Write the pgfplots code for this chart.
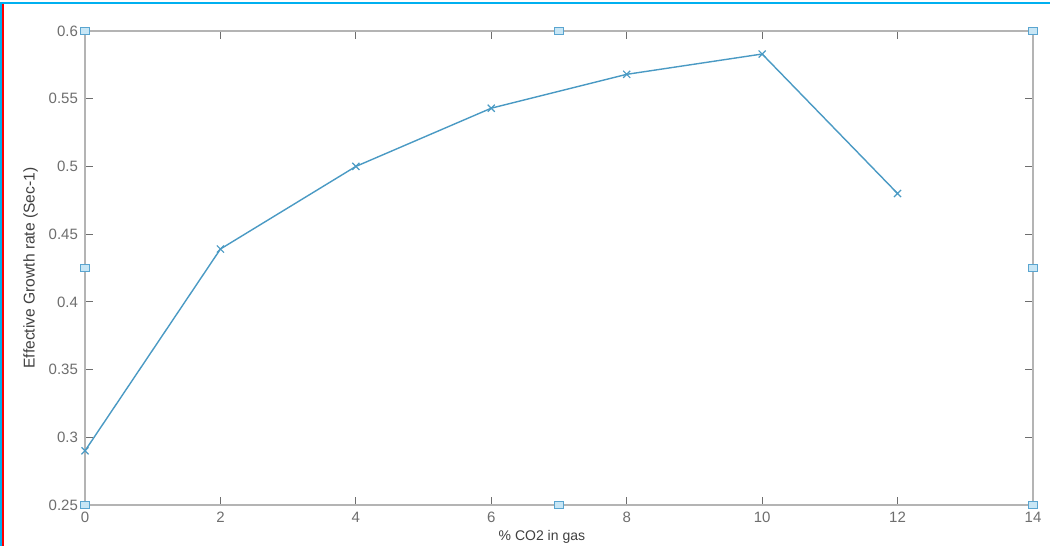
\documentclass[border=0pt]{standalone}
\usepackage{pgfplots}
\pgfplotsset{compat=1.18}
\usepackage{fontspec}
\setmainfont{Liberation Sans}
\definecolor{linec}{HTML}{4A9AC4}
\definecolor{axc}{HTML}{B4B4B4}
\definecolor{tickc}{HTML}{6E6E6E}
\definecolor{framec}{HTML}{00B0F0}
\definecolor{handlef}{HTML}{C8E6F5}
\definecolor{handled}{HTML}{5AA5D0}
\begin{document}
\begin{tikzpicture}[x=0.5pt,y=0.5pt]
\path[use as bounding box,fill=white] (-85,-41) rectangle (965,505);
\begin{axis}[
  at={(0pt,0pt)}, anchor=south west,
  scale only axis, width=474pt, height=237pt,
  xmin=0, xmax=14, ymin=0.25, ymax=0.6,
  xtick={0,2,...,14},
  ytick={0.25,0.3,0.35,0.4,0.45,0.5,0.55,0.6},
  yticklabels={0.25,0.3,0.35,0.4,0.45,0.5,0.55,0.6},
  xticklabels={0,2,4,6,8,10,12,14},
  tick align=inside,
  major tick length=4pt,
  axis line style={axc, line width=1pt},
  every tick/.style={tickc, line width=0.6pt},
  tick label style={font=\fontsize{7.5}{8}\selectfont, text=tickc},
  label style={text=black!75},
  xlabel={\% CO2 in gas},
  ylabel={Effective Growth rate (Sec-1)},
  xlabel style={font=\fontsize{7}{8}\selectfont, at={(axis description cs:0.482,0)}, anchor=north, yshift=-9pt},
  ylabel style={font=\fontsize{7.8}{8}\selectfont, at={(axis description cs:0,0.5)}, anchor=south, yshift=20pt},
  clip=false,
]
\addplot[linec, line width=0.7pt, mark=x, mark size=2.5pt, mark options={line width=0.6pt}]
 coordinates {(0,0.29) (2,0.439) (4,0.500) (6,0.543) (8,0.568) (10,0.583) (12,0.480)};
\addplot[only marks, mark=square*, mark size=2pt, mark options={fill=handlef, draw=handled, line width=0.5pt, xscale=1.1, yscale=0.8}]
 coordinates {(0,0.6) (7,0.6) (14,0.6) (0,0.425) (14,0.425) (0,0.25) (7,0.25) (14,0.25)};
\end{axis}
\draw[framec, line width=1pt] (-84,-41) -- (-84,501.5) -- (965,501.5);
\draw[red, line width=0.8pt] (-81.8,-41) -- (-81.8,500.5);
\end{tikzpicture}
\end{document}
